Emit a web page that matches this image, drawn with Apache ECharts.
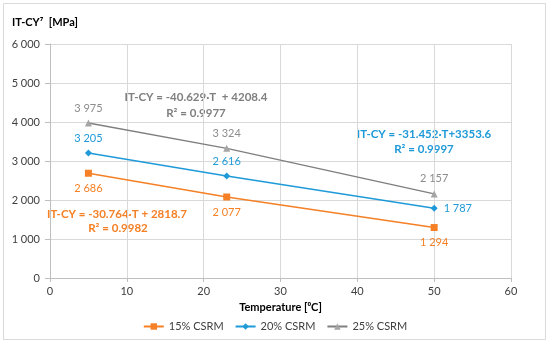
<!DOCTYPE html>
<html><head><meta charset="utf-8">
<script src="https://cdn.jsdelivr.net/npm/echarts@6/dist/echarts.min.js"></script>
<style>html,body{margin:0;padding:0;background:#fff}#c{width:550px;height:344px}</style>
</head><body><div id="c"></div>
<script>
const temps = [5, 23, 50];
const s15 = [2686, 2077, 1294];
const s20 = [3205, 2616, 1787];
const s25 = [3975, 3324, 2157];
const seriesNames = ['15% CSRM', '20% CSRM', '25% CSRM'];
const eq15 = ['IT-CY = -30.764·T + 2818.7', 'R² = 0.9982'];
const eq20 = ['IT-CY = -31.452·T+3353.6', 'R² = 0.9997'];
const eq25 = ['IT-CY = -40.629·T  + 4208.4', 'R² = 0.9977'];
const yTitle = 'IT-CY⁷  [MPa]';
const xTitle = 'Temperature [⁰C]';

const FONT = 'Lato, "Open Sans", sans-serif';
const fmt = v => String(v).replace(/\B(?=(\d{3})+(?!\d))/g, ' ');
const C15 = '#F58025', C20 = '#1E9AD8', C25line = '#7F7F7F', C25 = '#A5A5A5';

const chart = echarts.init(document.getElementById('c'), null, {renderer: 'canvas'});
function mk(vals, positions) {
  return vals.map((v, i) => ({value: [temps[i], v], label: {position: positions[i]}}));
}
function eqText(x, y, t, color) {
  return {type: 'text', x: x, y: y, style: {text: t, font: 'bold 11.5px ' + FONT, fill: color, textAlign: 'center', textVerticalAlign: 'middle'}};
}
chart.setOption({
  animation: false,
  textStyle: {fontFamily: FONT},
  grid: {left: 50, right: 39, top: 44, bottom: 66, containLabel: false},
  xAxis: {
    type: 'value', min: 0, max: 60, interval: 10,
    name: xTitle, nameLocation: 'middle', nameGap: 24,
    nameTextStyle: {fontFamily: FONT, fontWeight: 'bold', fontSize: 11, color: '#000'},
    axisLine: {show: true, lineStyle: {color: '#BFBFBF'}},
    axisTick: {show: true, length: 4, lineStyle: {color: '#BFBFBF'}},
    axisLabel: {color: '#404040', fontSize: 11, margin: 8, fontFamily: FONT},
    splitLine: {show: true, lineStyle: {color: '#D9D9D9'}}
  },
  yAxis: {
    type: 'value', min: 0, max: 6000, interval: 1000,
    axisLine: {show: true, lineStyle: {color: '#BFBFBF'}},
    axisTick: {show: true, inside: false, length: 5, lineStyle: {color: '#BFBFBF'}},
    axisLabel: {color: '#404040', fontSize: 11, margin: 10, fontFamily: FONT, formatter: fmt},
    splitLine: {show: true, lineStyle: {color: '#D9D9D9'}}
  },
  legend: {
    bottom: 7, left: 'center', itemGap: 11, itemWidth: 20, itemHeight: 8,
    textStyle: {fontFamily: FONT, fontSize: 11, color: '#404040'},
    data: seriesNames
  },
  series: [
    {name: seriesNames[0], type: 'line', data: mk(s15, ['bottom', 'bottom', 'bottom']),
     symbol: 'rect', symbolSize: 7, itemStyle: {color: C15}, lineStyle: {color: C15, width: 1.5},
     label: {show: true, distance: 6, color: C15, fontSize: 11, fontFamily: FONT, formatter: p => fmt(p.value[1])}},
    {name: seriesNames[1], type: 'line', data: mk(s20, ['top', 'top', 'right']),
     symbol: 'diamond', symbolSize: 7, itemStyle: {color: C20}, lineStyle: {color: C20, width: 1.5},
     label: {show: true, distance: 6, color: C20, fontSize: 11, fontFamily: FONT, formatter: p => fmt(p.value[1])}},
    {name: seriesNames[2], type: 'line', data: mk(s25, ['top', 'top', 'top']),
     symbol: 'triangle', symbolSize: 7, itemStyle: {color: C25}, lineStyle: {color: C25line, width: 1.5},
     label: {show: true, distance: 6, color: '#8C8C8C', fontSize: 11, fontFamily: FONT, formatter: p => fmt(p.value[1])}}
  ],
  graphic: [
    {type: 'rect', shape: {x: 3.5, y: 3.5, width: 542, height: 336}, style: {fill: 'none', stroke: '#D9D9D9', lineWidth: 1}, silent: true, z: -1},
    {type: 'text', left: 12, top: 17, style: {text: yTitle, font: 'bold 11px ' + FONT, fill: '#000'}},
    eqText(196, 97, eq25[0], '#7F7F7F'),
    eqText(196, 113, eq25[1], '#7F7F7F'),
    eqText(424, 134, eq20[0], C20),
    eqText(424, 149, eq20[1], C20),
    eqText(117, 214, eq15[0], C15),
    eqText(118, 228, eq15[1], C15)
  ]
});
</script></body></html>
